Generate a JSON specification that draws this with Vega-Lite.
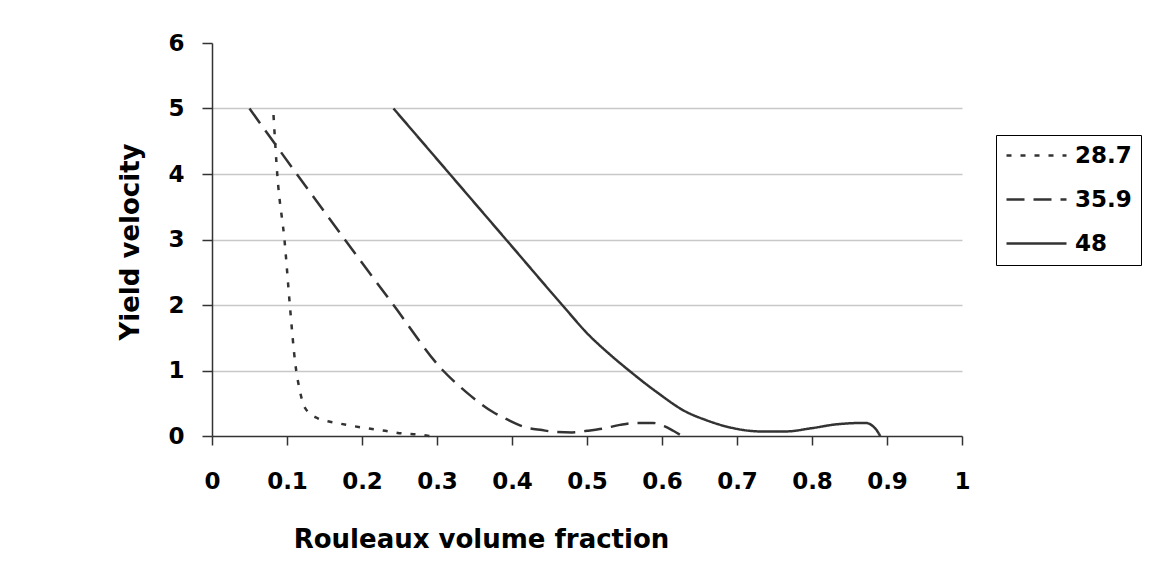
{
  "$schema": "https://vega.github.io/schema/vega-lite/v6.json",
  "autosize": {"type": "none"},
  "padding": {"left": 212, "top": 43, "right": 203, "bottom": 151},
  "width": 750,
  "height": 393,
  "background": "white",
  "config": {
    "view": {"stroke": null},
    "font": "DejaVu Sans"
  },
  "data": {
    "values": [
      {"x": 0.082, "y": 4.9, "series": "28.7"},
      {"x": 0.087, "y": 4.0, "series": "28.7"},
      {"x": 0.097, "y": 2.95, "series": "28.7"},
      {"x": 0.104, "y": 1.97, "series": "28.7"},
      {"x": 0.111, "y": 1.11, "series": "28.7"},
      {"x": 0.117, "y": 0.7, "series": "28.7"},
      {"x": 0.124, "y": 0.43, "series": "28.7"},
      {"x": 0.141, "y": 0.27, "series": "28.7"},
      {"x": 0.166, "y": 0.2, "series": "28.7"},
      {"x": 0.184, "y": 0.16, "series": "28.7"},
      {"x": 0.206, "y": 0.12, "series": "28.7"},
      {"x": 0.231, "y": 0.08, "series": "28.7"},
      {"x": 0.253, "y": 0.04, "series": "28.7"},
      {"x": 0.277, "y": 0.02, "series": "28.7"},
      {"x": 0.29, "y": 0.0, "series": "28.7"},
      {"x": 0.05, "y": 5.0, "series": "35.9"},
      {"x": 0.113, "y": 4.0, "series": "35.9"},
      {"x": 0.177, "y": 3.0, "series": "35.9"},
      {"x": 0.242, "y": 2.0, "series": "35.9"},
      {"x": 0.308, "y": 1.0, "series": "35.9"},
      {"x": 0.339, "y": 0.67, "series": "35.9"},
      {"x": 0.374, "y": 0.37, "series": "35.9"},
      {"x": 0.396, "y": 0.24, "series": "35.9"},
      {"x": 0.416, "y": 0.14, "series": "35.9"},
      {"x": 0.44, "y": 0.09, "series": "35.9"},
      {"x": 0.46, "y": 0.06, "series": "35.9"},
      {"x": 0.48, "y": 0.055, "series": "35.9"},
      {"x": 0.5, "y": 0.08, "series": "35.9"},
      {"x": 0.52, "y": 0.11, "series": "35.9"},
      {"x": 0.544, "y": 0.17, "series": "35.9"},
      {"x": 0.565, "y": 0.2, "series": "35.9"},
      {"x": 0.588, "y": 0.2, "series": "35.9"},
      {"x": 0.603, "y": 0.15, "series": "35.9"},
      {"x": 0.615, "y": 0.08, "series": "35.9"},
      {"x": 0.627, "y": 0.0, "series": "35.9"},
      {"x": 0.242, "y": 5.0, "series": "48"},
      {"x": 0.317, "y": 4.0, "series": "48"},
      {"x": 0.395, "y": 2.96, "series": "48"},
      {"x": 0.47, "y": 1.96, "series": "48"},
      {"x": 0.5, "y": 1.57, "series": "48"},
      {"x": 0.53, "y": 1.25, "series": "48"},
      {"x": 0.556, "y": 1.0, "series": "48"},
      {"x": 0.593, "y": 0.67, "series": "48"},
      {"x": 0.632, "y": 0.37, "series": "48"},
      {"x": 0.657, "y": 0.25, "series": "48"},
      {"x": 0.691, "y": 0.13, "series": "48"},
      {"x": 0.731, "y": 0.07, "series": "48"},
      {"x": 0.765, "y": 0.07, "series": "48"},
      {"x": 0.8, "y": 0.12, "series": "48"},
      {"x": 0.834, "y": 0.18, "series": "48"},
      {"x": 0.871, "y": 0.2, "series": "48"},
      {"x": 0.884, "y": 0.12, "series": "48"},
      {"x": 0.891, "y": 0.0, "series": "48"}
    ]
  },
  "mark": {"type": "line", "interpolate": "monotone", "color": "#333333", "strokeWidth": 2.5, "clip": false},
  "encoding": {
    "x": {
      "field": "x", "type": "quantitative",
      "scale": {"domain": [0, 1], "nice": false, "zero": false},
      "axis": {
        "values": [0, 0.1, 0.2, 0.3, 0.4, 0.5, 0.6, 0.7, 0.8, 0.9, 1],
        "format": ".1~f",
        "grid": false,
        "domainColor": "#333333", "domainWidth": 1.5,
        "tickColor": "#333333", "tickWidth": 1.5, "tickSize": 9,
        "labelFont": "DejaVu Sans", "labelFontWeight": "bold", "labelFontSize": 23, "labelColor": "black",
        "labelPadding": 25, "labelFlush": false, "labelOverlap": false,
        "title": "Rouleaux volume fraction",
        "titleFont": "DejaVu Sans", "titleFontWeight": "bold", "titleFontSize": 26, "titleColor": "black",
        "titleX": 269, "titleY": 111, "titleAlign": "center", "titleBaseline": "alphabetic", "titleAngle": 0
      }
    },
    "y": {
      "field": "y", "type": "quantitative",
      "scale": {"domain": [0, 6], "nice": false, "zero": false},
      "axis": {
        "values": [0, 1, 2, 3, 4, 5, 6],
        "grid": true,
        "gridColor": {"condition": {"test": "datum.value == 6 || datum.value == 0", "value": "rgba(0,0,0,0)"}, "value": "#c8c8c8"},
        "gridWidth": 1.5,
        "domainColor": "#333333", "domainWidth": 1.5,
        "tickColor": "#333333", "tickWidth": 1.5, "tickSize": 10,
        "labelFont": "DejaVu Sans", "labelFontWeight": "bold", "labelFontSize": 23, "labelColor": "black",
        "labelPadding": 18,
        "title": "Yield velocity",
        "titleFont": "DejaVu Sans", "titleFontWeight": "bold", "titleFontSize": 26, "titleColor": "black",
        "titleX": -74, "titleY": 198.5, "titleAlign": "center", "titleBaseline": "alphabetic", "titleAngle": -90
      }
    },
    "strokeDash": {
      "field": "series", "type": "nominal",
      "scale": {"domain": ["28.7", "35.9", "48"], "range": [[5, 9], [18, 9], [1, 0]]},
      "legend": {
        "title": null,
        "orient": "none",
        "legendX": 784,
        "legendY": 92,
        "strokeColor": "black",
        "fillColor": "white",
        "padding": 9,
        "symbolType": "M-3,0H3",
        "symbolSize": 400,
        "symbolOffset": 20,
        "symbolStrokeWidth": 2.5,
        "symbolStrokeColor": "#333333",
        "labelFont": "DejaVu Sans", "labelFontWeight": "bold", "labelFontSize": 23, "labelColor": "black",
        "labelOffset": 27,
        "rowPadding": 20
      }
    }
  }
}
